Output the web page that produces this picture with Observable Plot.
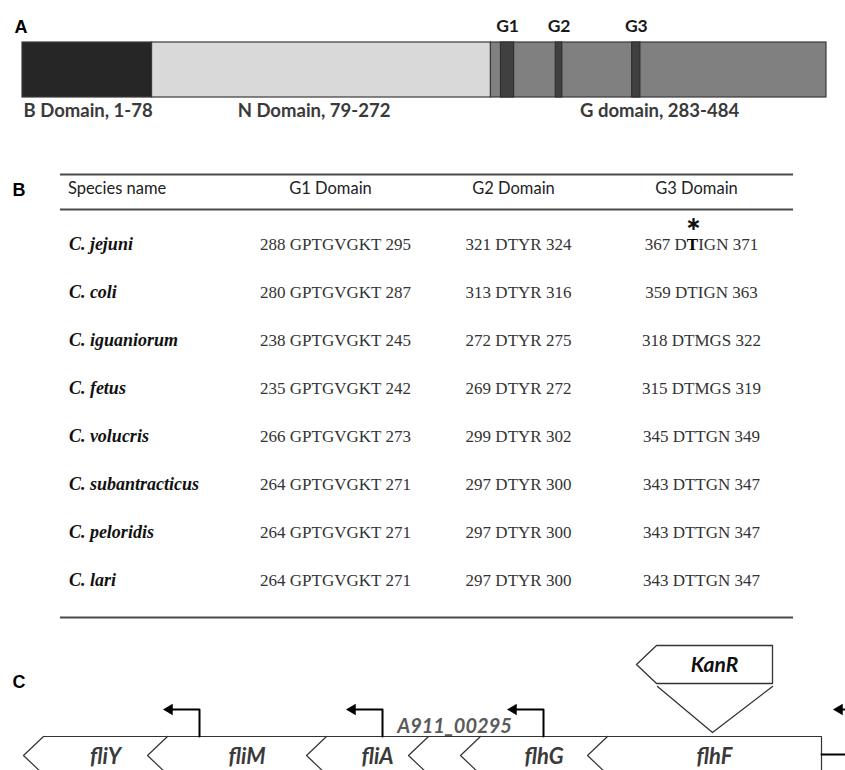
<!DOCTYPE html>
<html><head><meta charset="utf-8">
<script src="https://cdn.jsdelivr.net/npm/d3@7"></script>
<script src="https://cdn.jsdelivr.net/npm/@observablehq/plot@0.6"></script>
<style>
body{margin:0;background:#fff;}
#fig svg{display:block;}
</style></head><body><div id="fig"></div>
<script>
// ---------- Panel A data: FlhF domain architecture ----------
const proteinLength = 484;
const domainNames = ["B Domain, 1-78", "N Domain, 79-272", "G domain, 283-484"];
const domainStart = [1, 79, 283];
const domainEnd = [78, 272, 484];
const motifNames = ["G1", "G2", "G3"];
const motifStart = [288, 321, 367];
const motifEnd = [295, 324, 371];

// ---------- Panel B data: motif table ----------
const columns = ["Species name", "G1 Domain", "G2 Domain", "G3 Domain"];
const species = ["C. jejuni", "C. coli", "C. iguaniorum", "C. fetus", "C. volucris", "C. subantracticus", "C. peloridis", "C. lari"];
const g1 = ["288 GPTGVGKT 295", "280 GPTGVGKT 287", "238 GPTGVGKT 245", "235 GPTGVGKT 242", "266 GPTGVGKT 273", "264 GPTGVGKT 271", "264 GPTGVGKT 271", "264 GPTGVGKT 271"];
const g2 = ["321 DTYR 324", "313 DTYR 316", "272 DTYR 275", "269 DTYR 272", "299 DTYR 302", "297 DTYR 300", "297 DTYR 300", "297 DTYR 300"];
const g3 = ["367 DTIGN 371", "359 DTIGN 363", "318 DTMGS 322", "315 DTMGS 319", "345 DTTGN 349", "343 DTTGN 347", "343 DTTGN 347", "343 DTTGN 347"];
const starSpecies = "C. jejuni";
const starResidue = 368; // T368 in G3 motif of C. jejuni

// ---------- Panel C data: gene locus (diagram units) ----------
const genes = ["fliY", "fliM", "fliA", "A911_00295", "flhG", "flhF"];
const geneStart = [43, 167, 326, 428, 480, 607];
const geneEnd = [167, 326, 428, 480, 607, 821];
const promoters = [199, 382, 543, 869];
const insertName = "KanR";
const insertStart = 656;
const insertEnd = 772;
const insertSite = 712;

// ---------- styles ----------
const domainFill = ["#262626", "#d9d9d9", "#808080"];
const sans = "Lato, 'Open Sans', sans-serif";
const serif = "'Liberation Serif', 'DejaVu Serif', serif";
const labelFont = "'Liberation Sans', Arial, sans-serif";

// ---------- Panel A ----------
const segs = domainNames.map((n, i) => ({
  name: n,
  x1: domainStart[i] - 1,
  x2: i < domainNames.length - 1 ? domainStart[i + 1] - 1 : domainEnd[i],
  mid: (domainStart[i] + domainEnd[i]) / 2,
  fill: domainFill[i]
}));
const motifs = motifNames.map((n, i) => ({name: n, x1: motifStart[i], x2: motifEnd[i] + 1}));

const plotA = Plot.plot({
  width: 845, height: 140,
  marginLeft: 22, marginRight: 19, marginTop: 42, marginBottom: 43,
  x: {domain: [0, proteinLength], axis: null},
  color: {type: "identity"},
  style: {background: "#fff", fontFamily: sans},
  marks: [
    Plot.rect(segs, {x1: "x1", x2: "x2", fill: "fill", stroke: "#3a3a3a", strokeWidth: 1.2}),
    Plot.rect(motifs, {x1: "x1", x2: "x2", fill: "#404040", stroke: "#2a2a2a", strokeWidth: 1}),
    Plot.text(motifs, {x: d => (d.x1 + d.x2) / 2, text: "name", frameAnchor: "top", dy: -23,
      fontWeight: "bold", fontSize: 17.5, fill: "#1a1a1a", fontFamily: sans}),
    Plot.text(segs, {x: "mid", text: "name", frameAnchor: "bottom", dy: 19,
      fontWeight: "bold", fontSize: 18.5, fill: "#3a3a3a", fontFamily: sans}),
    Plot.text(["A"], {frameAnchor: "top-left", textAnchor: "start", dx: -8, dy: -22,
      fontWeight: "bold", fontSize: 18, fill: "#000", fontFamily: labelFont})
  ]
});

// ---------- Panel B ----------
const table = species.map((s, i) => ({species: s, g1: g1[i], g2: g2[i], g3: g3[i]}));
const colStep = (845 - 60 - 52) / columns.length;
const plotB = Plot.plot({
  width: 845, height: 485,
  marginLeft: 60, marginRight: 52, marginTop: 0, marginBottom: 0,
  x: {type: "point", domain: columns, padding: 0.5, axis: null},
  y: {type: "point", domain: species, range: [104, 440], padding: 0, axis: null},
  style: {background: "#fff", fontFamily: serif},
  marks: [
    Plot.ruleY([species[0]], {dy: -70, stroke: "#4a4a4a", strokeWidth: 2}),
    Plot.ruleY([species[0]], {dy: -35, stroke: "#4a4a4a", strokeWidth: 2}),
    Plot.ruleY([species[species.length - 1]], {dy: 37, stroke: "#4a4a4a", strokeWidth: 2}),
    Plot.text(columns.slice(0, 1), {x: d => d, y: () => species[0], dy: -56, dx: -colStep / 2 + 7,
      textAnchor: "start", fontSize: 16.5, fill: "#222", fontFamily: sans}),
    Plot.text(columns.slice(1), {x: d => d, y: () => species[0], dy: -56, dx: -5,
      fontSize: 16.5, fill: "#222", fontFamily: sans}),
    Plot.text(table, {x: () => columns[0], y: "species", text: "species", textAnchor: "start",
      dx: -colStep / 2 + 8, fontSize: 18, fontWeight: "bold", fontStyle: "italic", fill: "#111", fontFamily: serif}),
    Plot.text(table, {x: () => columns[1], y: "species", text: "g1", fontSize: 17, fill: "#333", fontFamily: serif}),
    Plot.text(table, {x: () => columns[2], y: "species", text: "g2", fontSize: 17, fill: "#333", fontFamily: serif}),
    Plot.text(table, {x: () => columns[3], y: "species", text: "g3", fontSize: 17, fill: "#333", fontFamily: serif}),
    Plot.text(["\u2217"], {x: () => columns[3], y: () => starSpecies, dx: -8, dy: -20.5,
      fontSize: 19, fontWeight: "bold", fill: "#111", fontFamily: "'DejaVu Sans', sans-serif"}),
    Plot.text(["B"], {frameAnchor: "top-left", textAnchor: "start", dx: -48, dy: 43,
      fontWeight: "bold", fontSize: 18, fill: "#000", fontFamily: labelFont})
  ]
});
// bold the starred residue
{
  const row = table.find(d => d.species === starSpecies);
  const start = parseInt(row.g3, 10);
  const parts = row.g3.split(" ");
  const motif = parts[1];
  const k = starResidue - start;
  const prefix = parts[0] + " " + motif.slice(0, k);
  const mid = motif.slice(k, k + 1);
  const suffix = motif.slice(k + 1) + " " + parts[2];
  d3.select(plotB).selectAll("text").each(function () {
    if (this.textContent === row.g3) {
      const t = d3.select(this);
      t.text(null);
      t.append("tspan").text(prefix);
      t.append("tspan").attr("font-weight", "bold").attr("fill", "#000").text(mid);
      t.append("tspan").text(suffix);
    }
  });
}

// ---------- Panel C ----------
const TOP = 111, MID = 130, BOT = 149, PTOP = 84, KTOP = 20, KBOT = 58, KMID = 39;
const chevrons = genes.flatMap((g, i) => [
  {g, x: geneStart[i], y: TOP}, {g, x: geneStart[i] - 20, y: MID}, {g, x: geneStart[i], y: BOT}
]);
const last = genes.length - 1;
const outline = [
  {x: geneStart[0], y: TOP}, {x: geneEnd[last], y: TOP}, {x: geneEnd[last], y: BOT}
];
const promoterPaths = promoters.flatMap((p, i) => [
  {i, x: p, y: TOP}, {i, x: p, y: PTOP}, {i, x: p - 30, y: PTOP}
]);
const kan = [
  {x: insertStart - 20, y: KMID}, {x: insertStart, y: KTOP}, {x: insertEnd, y: KTOP},
  {x: insertEnd, y: KBOT}, {x: insertStart, y: KBOT}, {x: insertStart - 20, y: KMID}
];
const vee = [
  {x: insertStart + 1, y: KBOT + 3}, {x: insertSite, y: TOP - 4}, {x: insertEnd, y: KBOT + 3}
];
const geneLabels = genes.map((g, i) => ({g, x: (geneStart[i] + geneEnd[i]) / 2}));

const plotC = Plot.plot({
  width: 845, height: 145, margin: 0,
  x: {domain: [0, 845], range: [0, 845], axis: null},
  y: {domain: [0, 145], range: [0, 145], axis: null},
  style: {background: "#fff", fontFamily: sans},
  marks: [
    Plot.line(chevrons, {x: "x", y: "y", z: "g", stroke: "#333", strokeWidth: 1.2}),
    Plot.line(outline, {x: "x", y: "y", stroke: "#333", strokeWidth: 1.2}),
    Plot.line([{x: geneEnd[last], y: MID - 1}, {x: 845, y: MID - 1}], {x: "x", y: "y", stroke: "#000", strokeWidth: 2}),
    Plot.line(promoterPaths, {x: "x", y: "y", z: "i", stroke: "#000", strokeWidth: 2}),
    Plot.dot(promoters, {x: p => p - 30, y: () => PTOP, symbol: "triangle", r: 4.2, rotate: -90, fill: "#000", stroke: "none"}),
    Plot.line(kan, {x: "x", y: "y", stroke: "#333", strokeWidth: 1.3}),
    Plot.line(vee, {x: "x", y: "y", stroke: "#333", strokeWidth: 1.3}),
    Plot.text([insertName], {x: () => (insertStart + insertEnd) / 2, y: () => KMID + 1,
      fontSize: 21, fontWeight: "bold", fontStyle: "italic", fill: "#111", fontFamily: sans}),
    Plot.text(geneLabels.filter(d => d.g !== "A911_00295"), {x: "x", y: () => MID + 1, text: "g",
      fontSize: 22, fontWeight: "bold", fontStyle: "italic", fill: "#3a3a3a", fontFamily: sans}),
    Plot.text(geneLabels.filter(d => d.g === "A911_00295"), {x: "x", y: () => TOP - 10, text: "g",
      fontSize: 20, fontWeight: "bold", fontStyle: "italic", fill: "#5a5a5a", fontFamily: sans}),
    Plot.text(["C"], {frameAnchor: "top-left", textAnchor: "start", dx: 12, dy: 50,
      fontWeight: "bold", fontSize: 18, fill: "#000", fontFamily: labelFont})
  ]
});

const fig = document.getElementById("fig");
fig.append(plotA, plotB, plotC);
</script></body></html>
